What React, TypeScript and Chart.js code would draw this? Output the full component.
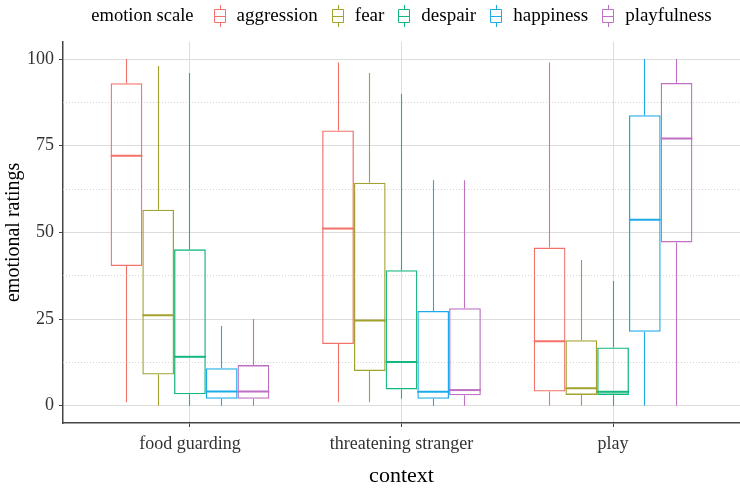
import React, { useEffect, useRef } from 'react';
import { Chart, registerables } from 'chart.js';

Chart.register(...registerables);

const FONT = "'Liberation Serif', 'Times New Roman', serif";

const contexts = ['food guarding', 'threatening stranger', 'play'];
const emotions = ['aggression', 'fear', 'despair', 'happiness', 'playfulness'];
const colors = ['#F3716A', '#A2A22E', '#12B87C', '#1CABE8', '#BD70C4'];

// five-number summaries per context: [min, q1, median, q3, max]
const aggression = [[1, 40.3, 72.1, 93.0, 100], [1, 17.8, 51.1, 79.4, 99], [0, 4.1, 18.6, 45.6, 99]];
const fear = [[0, 9.0, 26.1, 56.5, 98], [1, 10.0, 24.6, 64.3, 96], [0, 3.1, 5.0, 18.9, 42]];
const despair = [[0, 3.3, 14.1, 45.1, 96], [2, 4.7, 12.6, 39.1, 90], [0, 3.1, 4.0, 16.8, 36]];
const happiness = [[0, 2.0, 4.1, 10.8, 23], [0, 2.0, 4.0, 27.3, 65], [0, 21.3, 53.6, 83.8, 100]];
const playfulness = [[0, 2.0, 4.1, 11.7, 25], [0, 3.0, 4.5, 28.1, 65], [0, 47.1, 77.1, 93.1, 100]];

const seriesStats = [aggression, fear, despair, happiness, playfulness];
const yMajorTicks = [0, 25, 50, 75, 100];
const yMinorTicks = [12.5, 37.5, 62.5, 87.5];

const crisp = (v: number) => Math.round(v - 0.5) + 0.5;

const minorGridPlugin = {
  id: 'minorGrid',
  beforeDatasetsDraw(chart: any) {
    const { ctx, chartArea } = chart;
    const y = chart.scales.y;
    ctx.save();
    ctx.strokeStyle = '#d6d6d6';
    ctx.lineWidth = 1;
    ctx.setLineDash([1, 2]);
    yMinorTicks.forEach((v) => {
      const py = crisp(y.getPixelForValue(v));
      ctx.beginPath();
      ctx.moveTo(chartArea.left, py);
      ctx.lineTo(chartArea.right, py);
      ctx.stroke();
    });
    ctx.restore();
  },
};

const boxPlugin = {
  id: 'boxWhiskers',
  afterDatasetsDraw(chart: any) {
    const ctx = chart.ctx;
    const y = chart.scales.y;
    chart.data.datasets.forEach((ds: any, di: number) => {
      const meta = chart.getDatasetMeta(di);
      meta.data.forEach((el: any, i: number) => {
        const s = ds.stats[i];
        const { x, width } = el.getProps(['x', 'width'], true);
        const cx = crisp(x);
        ctx.save();
        ctx.strokeStyle = ds.borderColor;
        ctx.lineWidth = 1.1;
        ctx.beginPath();
        ctx.moveTo(cx, y.getPixelForValue(s[3]));
        ctx.lineTo(cx, y.getPixelForValue(s[4]));
        ctx.moveTo(cx, y.getPixelForValue(s[1]));
        ctx.lineTo(cx, y.getPixelForValue(s[0]));
        ctx.stroke();
        ctx.lineWidth = 2;
        const ym = y.getPixelForValue(s[2]);
        ctx.beginPath();
        ctx.moveTo(x - width / 2, ym);
        ctx.lineTo(x + width / 2, ym);
        ctx.stroke();
        ctx.restore();
      });
    });
  },
};

const legendPlugin = {
  id: 'boxLegend',
  afterDraw(chart: any) {
    const { ctx, chartArea } = chart;
    const title = 'emotion scale';
    const keyW = 18;
    const gapTitle = 17;
    const gapText = 8;
    const gapItem = 11;
    ctx.save();
    ctx.font = `18.5px ${FONT}`;
    const titleW = ctx.measureText(title).width;
    ctx.font = `19px ${FONT}`;
    const items = chart.data.datasets.map((ds: any) => ({
      label: ds.label,
      color: ds.borderColor,
      w: ctx.measureText(ds.label).width,
    }));
    let total = titleW + gapTitle;
    items.forEach((it: any, i: number) => {
      total += keyW + gapText + it.w + (i < items.length - 1 ? gapItem : 0);
    });
    let x = (chartArea.left + chartArea.right) / 2 - total / 2;
    const cy = 16;
    ctx.textBaseline = 'middle';
    ctx.textAlign = 'left';
    ctx.fillStyle = '#000';
    ctx.font = `18.5px ${FONT}`;
    ctx.fillText(title, x, cy);
    x += titleW + gapTitle;
    ctx.font = `19px ${FONT}`;
    items.forEach((it: any) => {
      const kx = Math.round(x);
      ctx.strokeStyle = it.color;
      ctx.lineWidth = 1;
      ctx.beginPath();
      ctx.rect(kx + 3.5, cy - 6.5, 11, 13);
      ctx.moveTo(kx + 3.5, cy + 0.5);
      ctx.lineTo(kx + 14.5, cy + 0.5);
      ctx.moveTo(kx + 9.5, cy - 6.5);
      ctx.lineTo(kx + 9.5, cy - 11);
      ctx.moveTo(kx + 9.5, cy + 6.5);
      ctx.lineTo(kx + 9.5, cy + 11);
      ctx.stroke();
      x += keyW + gapText;
      ctx.fillStyle = '#000';
      ctx.fillText(it.label, x, cy);
      x += it.w + gapItem;
    });
    ctx.restore();
  },
};

export default function App() {
  const ref = useRef<HTMLCanvasElement | null>(null);

  useEffect(() => {
    if (!ref.current) return;
    const datasets = emotions.map((name, k) => ({
      label: name,
      data: seriesStats[k].map((s, i) => ({ x: i + 1, y: [s[1], s[3]] })),
      stats: seriesStats[k],
      borderColor: colors[k],
      backgroundColor: 'rgba(0,0,0,0)',
      borderWidth: 1.3,
      borderSkipped: false,
      categoryPercentage: 0.75,
      barPercentage: 1,
    }));
    const chart = new Chart(ref.current, {
      type: 'bar',
      data: { datasets } as any,
      plugins: [minorGridPlugin, boxPlugin, legendPlugin],
      options: {
        responsive: false,
        animation: false,
        layout: { padding: { top: 41.7, left: 0, right: 0, bottom: 0 } },
        plugins: {
          legend: { display: false },
          tooltip: { enabled: false },
        },
        scales: {
          x: {
            type: 'linear',
            min: 0.4,
            max: 3.6,
            offset: false,
            afterBuildTicks: (s: any) => {
              s.ticks = contexts.map((_, i) => ({ value: i + 1 }));
            },
            afterFit: (s: any) => {
              s.height = 65;
            },
            ticks: {
              callback: (v: any) => contexts[Math.round(v) - 1] ?? '',
              font: { family: FONT, size: 18 },
              color: '#333',
              padding: 6.5,
              maxRotation: 0,
              autoSkip: false,
            },
            grid: {
              offset: false,
              color: '#dcdcdc',
              tickColor: '#444',
              tickLength: 4,
              lineWidth: 1,
            },
            border: { display: true, color: '#444', width: 1.5 },
            title: {
              display: true,
              text: 'context',
              font: { family: FONT, size: 22, lineHeight: 1.1 },
              color: '#000',
              padding: { top: 0, bottom: 0 },
            },
          },
          y: {
            type: 'linear',
            min: -5,
            max: 105,
            afterBuildTicks: (s: any) => {
              s.ticks = yMajorTicks.map((v) => ({ value: v }));
            },
            afterFit: (s: any) => {
              s.width = 63;
            },
            ticks: {
              font: { family: FONT, size: 18 },
              color: '#333',
              padding: 5,
            },
            grid: {
              color: '#dcdcdc',
              tickColor: '#444',
              tickLength: 4,
              lineWidth: 1,
            },
            border: { display: true, color: '#444', width: 1.5 },
            title: {
              display: true,
              text: 'emotional ratings',
              font: { family: FONT, size: 20 },
              color: '#000',
              padding: { top: 1.5, bottom: 0 },
            },
          },
        },
      } as any,
    });
    return () => chart.destroy();
  }, []);

  return (
    <div style={{ position: 'absolute', left: 0, top: 0, width: 740, height: 488 }}>
      <canvas ref={ref} width={740} height={488} style={{ display: 'block' }} />
    </div>
  );
}
